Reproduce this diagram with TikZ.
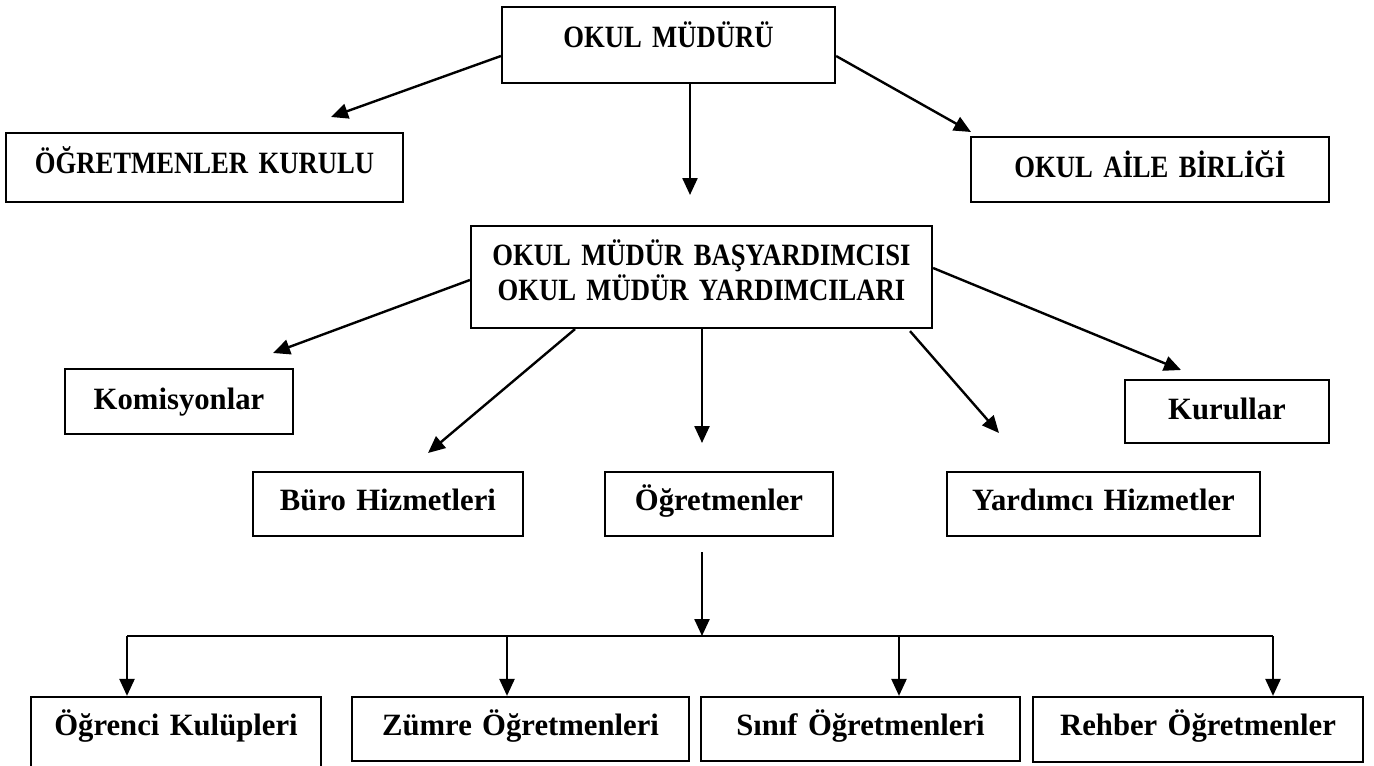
\documentclass[tikz,border=0pt]{standalone}
\usepackage{fontspec}
\setmainfont{Liberation Serif}
\newfontfamily\capsfont{Liberation Serif Bold}[FakeStretch=0.86]
\newfontfamily\lowfont{Liberation Serif Bold}[FakeStretch=0.99]
\newcommand\capsstyle{\capsfont\fontsize{31}{35}\selectfont\fontdimen2\font=5.5pt\relax}
\newcommand\lowstyle{\lowfont\fontsize{31}{35}\selectfont\fontdimen2\font=6.5pt\relax}
\usetikzlibrary{arrows.meta}
\tikzset{
  box/.style={draw, line width=2.2pt, inner sep=0pt, align=center, anchor=base},
  caps/.style={font=\capsstyle},
  low/.style={font=\lowstyle},
  arr/.style={line width=2.4pt, -{Triangle[length=17pt,width=15pt]}},
  plain/.style={line width=2.4pt}
}
\begin{document}
\begin{tikzpicture}[x=1pt,y=-1pt]
\useasboundingbox (0,0) rectangle (1374,766);
% boxes
\node[box, caps, text width=333pt, text height=40pt, text depth=36pt] (mudur) at (668.5,47) {OKUL MÜDÜRÜ};
\node[box, caps, text width=397pt, text height=40pt, text depth=29pt] (ogrk) at (204.5,173) {ÖĞRETMENLER KURULU};
\node[box, caps, text width=358pt, text height=40pt, text depth=25pt] (aile) at (1150,177) {OKUL AİLE BİRLİĞİ};
\node[box, caps, text width=461pt, text height=39pt, text depth=63pt] (bas) at (701.5,265) {OKUL MÜDÜR BAŞYARDIMCISI\\OKUL MÜDÜR YARDIMCILARI};
\node[box, low, text width=228pt, text height=40pt, text depth=25pt] (komis) at (179,409) {Komisyonlar};
\node[box, low, text width=204pt, text height=39pt, text depth=24pt] (kurul) at (1227,419) {Kurullar};
\node[box, low, text width=270pt, text height=38pt, text depth=26pt] (buro) at (388,510) {Büro Hizmetleri};
\node[box, low, text width=228pt, text height=38pt, text depth=26pt] (ogrt) at (719,510) {Öğretmenler};
\node[box, low, text width=313pt, text height=38pt, text depth=26pt] (yard) at (1103.5,510) {Yardımcı Hizmetler};
\node[box, low, text width=290pt, text height=38pt, text depth=50pt] (ogrenci) at (176,735) {Öğrenci Kulüpleri};
\node[box, low, text width=337pt, text height=38pt, text depth=26pt] (zumre) at (520.5,735) {Zümre Öğretmenleri};
\node[box, low, text width=319pt, text height=38pt, text depth=26pt] (sinif) at (860.5,735) {Sınıf Öğretmenleri};
\node[box, low, text width=330pt, text height=38pt, text depth=27pt] (rehber) at (1198,735) {Rehber Öğretmenler};
% arrow tips (free ends)
\coordinate (tA) at (331,117);
\coordinate (tB) at (690,195);
\coordinate (tC) at (971,132);
\coordinate (tD) at (273,353);
\coordinate (tE) at (428,453);
\coordinate (tF) at (702,443);
\coordinate (tG) at (999,433);
\coordinate (tH) at (1181,370);
\coordinate (sI) at (702,552);
\coordinate (hub) at (702,636);
\coordinate (h1) at (127,636);
\coordinate (h2) at (507,636);
\coordinate (h3) at (899,636);
\coordinate (h4) at (1273,636);
% connectors
\draw[arr] ([yshift=-11pt]mudur.west) -- (tA);
\draw[arr] ([xshift=21.5pt]mudur.south) -- (tB);
\draw[arr] ([yshift=-11pt]mudur.east) -- (tC);
\draw[arr] ([yshift=-3pt]bas.west) -- (tD);
\draw[arr] ([xshift=-126.5pt]bas.south) -- (tE);
\draw[arr] ([xshift=0.5pt]bas.south) -- (tF);
\draw[arr] ([xshift=208.5pt,yshift=-2pt]bas.south) -- (tG);
\draw[arr] ([yshift=9pt]bas.east) -- (tH);
\draw[arr] (sI) -- (hub);
\draw[plain] (h1) -- (h4);
\draw[arr] (h1) -- (h1 |- ogrenci.north);
\draw[arr] (h2) -- (h2 |- zumre.north);
\draw[arr] (h3) -- (h3 |- sinif.north);
\draw[arr] (h4) -- (h4 |- rehber.north);
\end{tikzpicture}
\end{document}
